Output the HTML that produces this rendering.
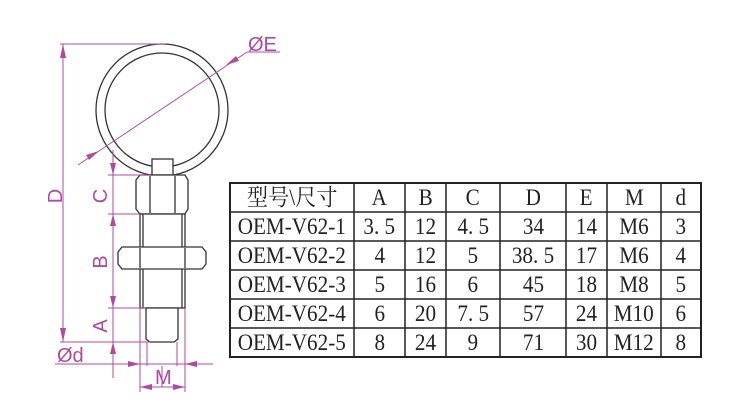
<!DOCTYPE html>
<html><head><meta charset="utf-8"><style>
body{margin:0;width:750px;height:419px;background:#fff;overflow:hidden;position:relative}
svg{position:absolute;left:0;top:0}
.t{position:absolute;font-family:"Liberation Serif","Noto Serif CJK SC",serif;font-size:23px;color:#222;text-align:center;line-height:29px;height:29px;white-space:nowrap}
.t span{display:inline-block;transform:scaleX(0.92)}
</style></head><body>
<svg width="750" height="419" viewBox="0 0 750 419">
<g fill="none" stroke="#333" stroke-width="1.3">
<circle cx="162" cy="110" r="66"/>
<circle cx="162" cy="110" r="57"/>
<rect x="152" y="159" width="21" height="16" fill="#fff"/>
<path d="M140 175 H185 L188 180 V209 L185 214 H140 L136 209 V180 Z" fill="#fff"/>
<line x1="150" y1="176" x2="150" y2="213"/><line x1="175" y1="176" x2="175" y2="213"/>
<rect x="140" y="214" width="45" height="94" fill="#fff"/>
<line x1="143" y1="214" x2="143" y2="308"/><line x1="182" y1="214" x2="182" y2="308"/>
<path d="M122 247 H202 L206 252 V264 L202 269 H122 L118 264 V252 Z" fill="#fff"/>
<line x1="140" y1="248" x2="140" y2="268"/><line x1="185" y1="248" x2="185" y2="268"/>
<path d="M146 308 H178 V339 L174 342 H150 L146 339 Z" fill="#fff"/>
</g>
<g stroke="#b04aa0" stroke-width="1" fill="none">
<line x1="60" y1="44" x2="165" y2="44"/>
<line x1="63" y1="44" x2="63" y2="342"/>
<line x1="60" y1="342" x2="150" y2="342"/>
<line x1="55" y1="364" x2="213" y2="364"/>
<line x1="78" y1="165" x2="247" y2="52"/><line x1="247" y1="52" x2="280" y2="52"/>
<line x1="113" y1="150" x2="113" y2="378"/>
<line x1="108" y1="175" x2="150" y2="175"/>
<line x1="108" y1="214" x2="140" y2="214"/>
<line x1="108" y1="308" x2="146" y2="308"/>
<line x1="140" y1="308" x2="140" y2="392"/><line x1="185" y1="308" x2="185" y2="392"/>
<line x1="147" y1="342" x2="147" y2="366"/><line x1="177" y1="342" x2="177" y2="366"/>
<line x1="140" y1="387" x2="185" y2="387"/>
<line x1="162" y1="366" x2="162" y2="387"/>
</g>
<g fill="#b04aa0">
<path d="M63 44 l-3 14 h6z"/><path d="M63 342 l-3 -14 h6z"/>
<path d="M99 151 l-13 4 l3 5z"/><path d="M226 65 l13 -4 l-3 -5z"/>
<path d="M113 175 l-3 -12 h6z"/><path d="M113 214 l-3 12 h6z"/><path d="M113 308 l-3 -12 h6z"/><path d="M113 342 l-3 12 h6z"/>
<path d="M140 364 l-12 -3 v6z"/><path d="M185 364 l12 -3 v6z"/>
<path d="M140 387 l12 -3 v6z"/><path d="M185 387 l-12 -3 v6z"/>
</g>
<g fill="#b04aa0" font-family="Liberation Sans,sans-serif" font-size="20">
<text x="248" y="51">ØE</text>
<text transform="translate(62,196) rotate(-90)" text-anchor="middle">D</text>
<text transform="translate(107,196) rotate(-90)" text-anchor="middle">C</text>
<text transform="translate(107,262) rotate(-90)" text-anchor="middle">B</text>
<text transform="translate(107,326) rotate(-90)" text-anchor="middle">A</text>
<text x="57" y="362">Ød</text>
<text x="155" y="384">M</text>
</g>
<g stroke="#222" stroke-width="2" fill="none">
<rect x="230" y="183" width="471" height="174"/>
</g>
<g stroke="#222" stroke-width="1.5">
<line x1="230" y1="212" x2="701" y2="212"/><line x1="230" y1="241" x2="701" y2="241"/>
<line x1="230" y1="270" x2="701" y2="270"/><line x1="230" y1="299" x2="701" y2="299"/>
<line x1="230" y1="328" x2="701" y2="328"/>
<line x1="354" y1="183" x2="354" y2="357"/><line x1="405" y1="183" x2="405" y2="357"/>
<line x1="446" y1="183" x2="446" y2="357"/><line x1="500" y1="183" x2="500" y2="357"/>
<line x1="566" y1="183" x2="566" y2="357"/><line x1="607" y1="183" x2="607" y2="357"/>
<line x1="661" y1="183" x2="661" y2="357"/>
</g>
</svg>
<div id="tbl"></div>
<script>
var cols=[230,354,405,446,500,566,607,661,701];
var rows=[["型号\\尺寸","A","B","C","D","E","M","d"],
["OEM-V62-1","3.5","12","4.5","34","14","M6","3"],
["OEM-V62-2","4","12","5","38.5","17","M6","4"],
["OEM-V62-3","5","16","6","45","18","M8","5"],
["OEM-V62-4","6","20","7.5","57","24","M10","6"],
["OEM-V62-5","8","24","9","71","30","M12","8"]];
var h="";
for(var r=0;r<6;r++)for(var c=0;c<8;c++){
var t=rows[r][c].replace(/\./g,". ");
h+='<div class="t" style="left:'+cols[c]+'px;width:'+(cols[c+1]-cols[c])+'px;top:'+(183+r*29)+'px"><span>'+t+'</span></div>';}
document.getElementById("tbl").innerHTML=h;
</script>
</body></html>
